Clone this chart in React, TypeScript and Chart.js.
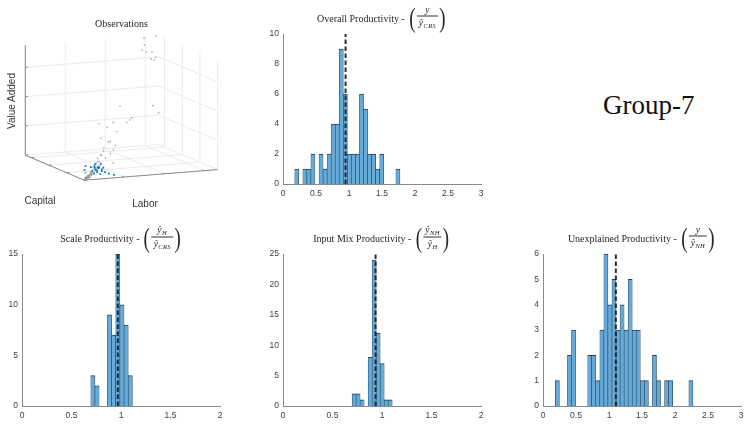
import React, { useEffect, useRef } from 'react';
import { Chart, registerables } from 'chart.js';

Chart.register(...registerables);

// ---------------- Observations (all firms) ----------------
const firmCapital = [
  100, 100, 78, 83, 91, 94, 90, 96, 88, 48,
  92, 64, 57, 39, 31, 20, 44, 22, 35, 42,
  26, 35, 18, 22, 100, 61, 39, 39, 3, 4,
  5, 6, 5, 7, 8, 6, 9, 10, 11, 12,
  8, 13, 14, 15, 16, 18, 17, 20, 22, 24,
  12, 10, 25, 28, 9, 2, 4, 7, 3, 2,
  1, 4, 6, 5, 3, 8, 7, 10, 30, 27,
];
const firmLabor = [
  89, 98, 78, 83, 91, 94, 90, 96, 84, 48,
  92, 64, 57, 39, 31, 20, 44, 22, 35, 42,
  26, 35, 18, 22, 100, 61, 39, 39, 2, 3,
  4, 5, 6, 6, 7, 8, 8, 9, 10, 10,
  11, 12, 12, 14, 13, 16, 19, 18, 20, 22,
  16, 14, 27, 25, 5, 3, 7, 4, 4, 2,
  2, 5, 6, 3, 6, 9, 9, 12, 28, 30,
];
const firmValueAdded = [
  73.5, 74.3, 69.8, 67.5, 65.3, 59.3, 60.8, 60.8, 71.3, 39,
  28.5, 27, 25.5, 30, 28.5, 33.8, 22.5, 23.3, 18, 13.5,
  13.5, 9.8, 10.5, 12, 21.8, 26.3, 11.3, 2.3, 0.8, 0.8,
  0.8, 1.5, 0.8, 1.5, 1.5, 2.3, 1.5, 2.3, 2.3, 3,
  2.3, 3.8, 3, 4.5, 5.3, 4.5, 6, 6.8, 7.5, 6.8,
  6, 5.3, 9, 10.5, 3, 1.5, 2.3, 3.8, 0.5, 0.4,
  0.3, 0.6, 1, 0.5, 1.2, 1.8, 2.5, 3.5, 15, 19.5,
];

// Group-7 firms
const groupCapital = [20, 15, 14, 16, 12, 18, 13, 10, 8, 6, 22, 17, 25, 14, 16, 11, 19, 13, 20, 9, 15, 23, 17];
const groupLabor = [9, 15, 17, 16, 15, 18, 19, 20, 22, 25, 18, 20, 12, 14, 13, 18, 16, 13, 20, 16, 21, 15, 17];
const groupValueAdded = [3, 3.8, 4.5, 3, 2.3, 4.5, 3.8, 2.3, 1.5, 0.8, 6, 6.8, 4.5, 5.3, 2.3, 3, 5.3, 1.5, 3.8, 1.5, 4.5, 3.8, 2.3];

// 3-D axis limits and ticks
const CAPITAL_MAX = 100;
const LABOR_MAX = 100;
const VA_MAX = 75;
const capitalTicks = [0, 30, 60, 90];
const laborTicks = [0, 30, 60, 90];
const valueAddedTicks = [0, 20, 40, 60];

// ---------------- Productivity histograms ----------------
const overallBinStart = 0.178;
const overallBinWidth = 0.0613;
const overallCounts = [1, 0, 1, 1, 2, 0, 2, 1, 2, 4, 4, 9, 6, 2, 2, 2, 6, 5, 2, 2, 1, 2, 0, 0, 0, 1];
const overallMedian = 0.948;

const scaleBinStart = 0.695;
const scaleBinWidth = 0.042;
const scaleCounts = [3, 2, 0, 0, 9, 7, 15, 10, 8, 3];
const scaleMedian = 0.968;

const mixBinStart = 0.698;
const mixBinWidth = 0.0405;
const mixCounts = [2, 2, 1, 0, 8, 24, 12, 7, 1, 1];
const mixMedian = 0.935;

const unexplainedBinStart = 0.187;
const unexplainedBinWidth = 0.0613;
const unexplainedCounts = [
  1, 0, 0, 2, 3, 0, 0, 0, 2, 2, 1, 3, 6, 4, 5, 3, 4,
  3, 5, 3, 3, 1, 1, 0, 2, 1, 0, 1, 1, 0, 0, 0, 0, 1,
];
const unexplainedMedian = 1.104;

// ---------------- styling ----------------
const SERIF = '"Liberation Serif", "DejaVu Serif", serif';
const SANS = '"Liberation Sans", Arial, sans-serif';
const BAR_FILL = '#66aad7';
const BAR_EDGE = '#23405c';
const AXIS_COLOR = '#8a8a8a';
const TICK_COLOR = '#3c3c3c';
const GRID_3D = '#e6e6e6';

const AX_W = 24;
const AX_H = 20;
const PAD_T = 6;
const PAD_R = 10;

// screen projection of the 3-D box (fixed view)
const W3 = 240;
const H3 = 215;
const ORIGIN_PX = { x: 83, y: 183 };
const CAPITAL_DIR = { x: -61, y: -26 };
const LABOR_DIR = { x: 138, y: -11 };
const VA_DIR = { x: 0, y: -114 };

function project(c: number, l: number, v: number) {
  const a = c / CAPITAL_MAX;
  const b = l / LABOR_MAX;
  const h = v / VA_MAX;
  return {
    x: ORIGIN_PX.x + a * CAPITAL_DIR.x + b * LABOR_DIR.x + h * VA_DIR.x,
    y: ORIGIN_PX.y + a * CAPITAL_DIR.y + b * LABOR_DIR.y + h * VA_DIR.y,
  };
}

const box3dPlugin = {
  id: 'box3d',
  beforeDatasetsDraw(chart: any) {
    const { ctx } = chart;
    const xs = chart.scales.x;
    const ys = chart.scales.y;
    const P = (c: number, l: number, v: number) => {
      const p = project(c, l, v);
      return [xs.getPixelForValue(p.x), ys.getPixelForValue(p.y)];
    };
    const seg = (a: number[], b: number[], color: string, w: number) => {
      ctx.beginPath();
      ctx.moveTo(a[0], a[1]);
      ctx.lineTo(b[0], b[1]);
      ctx.strokeStyle = color;
      ctx.lineWidth = w;
      ctx.stroke();
    };
    ctx.save();
    // floor grid
    laborTicks.forEach((t) => seg(P(0, t, 0), P(CAPITAL_MAX, t, 0), GRID_3D, 0.8));
    capitalTicks.forEach((t) => seg(P(t, 0, 0), P(t, LABOR_MAX, 0), GRID_3D, 0.8));
    // back wall at capital max
    laborTicks.forEach((t) => seg(P(CAPITAL_MAX, t, 0), P(CAPITAL_MAX, t, VA_MAX), GRID_3D, 0.8));
    valueAddedTicks.forEach((t) => seg(P(CAPITAL_MAX, 0, t), P(CAPITAL_MAX, LABOR_MAX, t), GRID_3D, 0.8));
    // back wall at labor max
    capitalTicks.forEach((t) => seg(P(t, LABOR_MAX, 0), P(t, LABOR_MAX, VA_MAX), GRID_3D, 0.8));
    valueAddedTicks.forEach((t) => seg(P(0, LABOR_MAX, t), P(CAPITAL_MAX, LABOR_MAX, t), GRID_3D, 0.8));
    // axis lines
    seg(P(CAPITAL_MAX, 0, 0), P(0, 0, 0), AXIS_COLOR, 1);
    seg(P(0, 0, 0), P(0, LABOR_MAX, 0), AXIS_COLOR, 1);
    seg(P(CAPITAL_MAX, 0, 0), P(CAPITAL_MAX, 0, VA_MAX), AXIS_COLOR, 1);
    // tick marks
    valueAddedTicks.forEach((t) => seg(P(CAPITAL_MAX, 0, t), P(CAPITAL_MAX, 2, t), AXIS_COLOR, 1));
    capitalTicks.forEach((t) => seg(P(t, 0, 0), P(t, 2, 0), AXIS_COLOR, 1));
    laborTicks.forEach((t) => seg(P(0, t, 0), P(3, t, 0), AXIS_COLOR, 1));
    ctx.restore();
  },
};

function scatterConfig(): any {
  const firms = firmCapital.map((c, i) => project(c, firmLabor[i], firmValueAdded[i]));
  const group = groupCapital.map((c, i) => project(c, groupLabor[i], groupValueAdded[i]));
  return {
    type: 'scatter',
    data: {
      datasets: [
        {
          data: group,
          pointStyle: 'rect',
          pointRadius: 1.2,
          backgroundColor: '#0072bd',
          borderWidth: 0,
          order: 0,
        },
        {
          data: firms,
          pointRadius: 0.85,
          backgroundColor: 'rgba(110,110,110,0.55)',
          borderWidth: 0,
          order: 1,
        },
      ],
    },
    options: {
      responsive: false,
      animation: false,
      events: [],
      layout: { padding: 0 },
      plugins: { legend: { display: false }, tooltip: { enabled: false } },
      scales: {
        x: { type: 'linear', min: 0, max: W3, display: false },
        y: { type: 'linear', min: 0, max: H3, reverse: true, display: false },
      },
    },
    plugins: [box3dPlugin],
  };
}

const formatTick = (v: number | string) => String(Math.round(Number(v) * 100) / 100);

function histConfig(p: any): any {
  const bars = p.counts.map((c: number, i: number) => ({ x: p.binStart + (i + 0.5) * p.binWidth, y: c }));
  const tickFont = { family: SANS, size: 8.5 };
  return {
    type: 'bar',
    data: {
      datasets: [
        {
          type: 'line',
          data: [
            { x: p.median, y: 0 },
            { x: p.median, y: p.yMax },
          ],
          borderColor: 'rgba(28,28,32,0.92)',
          borderWidth: 2,
          borderDash: [4.5, 2.5],
          pointRadius: 0,
          order: 0,
        },
        {
          type: 'bar',
          data: bars,
          backgroundColor: BAR_FILL,
          borderColor: BAR_EDGE,
          borderWidth: { top: 1, left: 0.6, right: 0.6, bottom: 0 },
          barPercentage: 1,
          categoryPercentage: 1,
          order: 1,
        },
      ],
    },
    options: {
      responsive: false,
      animation: false,
      events: [],
      layout: { padding: { top: PAD_T, right: PAD_R, left: 0, bottom: 0 } },
      plugins: { legend: { display: false }, tooltip: { enabled: false } },
      scales: {
        x: {
          type: 'linear',
          min: 0,
          max: p.xMax,
          offset: false,
          grid: { display: false, drawTicks: false },
          border: { display: true, color: AXIS_COLOR, width: 1 },
          ticks: {
            stepSize: 0.5,
            autoSkip: false,
            maxRotation: 0,
            color: TICK_COLOR,
            font: tickFont,
            padding: 5,
            callback: formatTick,
          },
          afterFit: (s: any) => {
            s.height = AX_H;
          },
        },
        y: {
          type: 'linear',
          min: 0,
          max: p.yMax,
          grid: { display: false, drawTicks: false },
          border: { display: true, color: AXIS_COLOR, width: 1 },
          ticks: { stepSize: p.yStep, color: TICK_COLOR, font: tickFont, padding: 4, callback: formatTick },
          afterFit: (s: any) => {
            s.width = AX_W;
          },
        },
      },
    },
  };
}

const PANELS = [
  {
    id: 'overall',
    area: { left: 283, top: 31, width: 198, height: 153 },
    binStart: overallBinStart,
    binWidth: overallBinWidth,
    counts: overallCounts,
    median: overallMedian,
    xMax: 3,
    yMax: 10,
    yStep: 2,
  },
  {
    id: 'scale',
    area: { left: 22, top: 251, width: 198, height: 155 },
    binStart: scaleBinStart,
    binWidth: scaleBinWidth,
    counts: scaleCounts,
    median: scaleMedian,
    xMax: 2,
    yMax: 15,
    yStep: 5,
  },
  {
    id: 'mix',
    area: { left: 283, top: 251, width: 198, height: 155 },
    binStart: mixBinStart,
    binWidth: mixBinWidth,
    counts: mixCounts,
    median: mixMedian,
    xMax: 2,
    yMax: 25,
    yStep: 5,
  },
  {
    id: 'unexplained',
    area: { left: 543, top: 251, width: 198, height: 155 },
    binStart: unexplainedBinStart,
    binWidth: unexplainedBinWidth,
    counts: unexplainedCounts,
    median: unexplainedMedian,
    xMax: 3,
    yMax: 6,
    yStep: 1,
  },
];

function ChartCanvas({ left, top, width, height, build }: any) {
  const ref = useRef<HTMLCanvasElement | null>(null);
  useEffect(() => {
    const chart = new Chart(ref.current as HTMLCanvasElement, build());
    return () => chart.destroy();
  }, []);
  return (
    <canvas
      ref={ref}
      width={width}
      height={height}
      style={{ position: 'absolute', left, top, width, height }}
    />
  );
}

function Sym({ hat, sub }: { hat?: boolean; sub?: string }) {
  return (
    <span style={{ whiteSpace: 'nowrap' }}>
      <i>{hat ? '\u0177' : 'y'}</i>
      {sub ? (
        <i style={{ fontSize: 6.5, position: 'relative', top: 2, marginLeft: 0.5, letterSpacing: 0.3 }}>{sub}</i>
      ) : null}
    </span>
  );
}

function PanelTitle({ cx, cy, text, num, den }: any) {
  const paren = {
    fontSize: 27,
    lineHeight: '27px',
    fontWeight: 300,
    display: 'inline-block',
    transform: 'scaleX(0.7)',
  } as React.CSSProperties;
  return (
    <div
      style={{
        position: 'absolute',
        left: cx,
        top: cy,
        transform: 'translate(-50%, -50%)',
        display: 'flex',
        alignItems: 'center',
        whiteSpace: 'nowrap',
        fontFamily: SERIF,
        fontSize: 10,
        color: '#262626',
      }}
    >
      <span>{text}</span>
      <span style={{ ...paren, marginLeft: 3 }}>(</span>
      <span
        style={{
          display: 'inline-flex',
          flexDirection: 'column',
          alignItems: 'center',
          fontSize: 9.5,
          lineHeight: '10px',
        }}
      >
        <span style={{ padding: '0 2px 1px' }}>{num}</span>
        <span style={{ alignSelf: 'stretch', borderTop: '0.8px solid #333' }} />
        <span style={{ padding: '1px 2px 2px' }}>{den}</span>
      </span>
      <span style={paren}>)</span>
    </div>
  );
}

export default function App() {
  return (
    <div
      style={{
        position: 'fixed',
        left: 0,
        top: 0,
        width: 750,
        height: 426,
        background: '#ffffff',
        overflow: 'hidden',
      }}
    >
      <ChartCanvas left={0} top={0} width={W3} height={H3} build={scatterConfig} />
      {PANELS.map((p) => (
        <ChartCanvas
          key={p.id}
          left={p.area.left - AX_W}
          top={p.area.top - PAD_T}
          width={p.area.width + AX_W + PAD_R}
          height={p.area.height + PAD_T + AX_H}
          build={() => histConfig(p)}
        />
      ))}

      {/* 3-D panel labels */}
      <div
        style={{
          position: 'absolute',
          left: 121.5,
          top: 23,
          transform: 'translate(-50%, -50%)',
          fontFamily: SERIF,
          fontSize: 10,
          color: '#262626',
          whiteSpace: 'nowrap',
        }}
      >
        Observations
      </div>
      <div
        style={{
          position: 'absolute',
          left: 11,
          top: 101,
          transform: 'translate(-50%, -50%) rotate(-90deg)',
          fontFamily: SANS,
          fontSize: 10,
          color: '#333',
          whiteSpace: 'nowrap',
        }}
      >
        Value Added
      </div>
      <div
        style={{
          position: 'absolute',
          left: 40,
          top: 200,
          transform: 'translate(-50%, -50%)',
          fontFamily: SANS,
          fontSize: 10,
          color: '#333',
        }}
      >
        Capital
      </div>
      <div
        style={{
          position: 'absolute',
          left: 145,
          top: 203,
          transform: 'translate(-50%, -50%)',
          fontFamily: SANS,
          fontSize: 10,
          color: '#333',
        }}
      >
        Labor
      </div>

      <PanelTitle cx={382} cy={17.5} text="Overall Productivity -" num={<Sym />} den={<Sym hat sub="CRS" />} />
      <PanelTitle cx={121} cy={237.5} text="Scale Productivity -" num={<Sym hat sub="H" />} den={<Sym hat sub="CRS" />} />
      <PanelTitle cx={382} cy={237.5} text="Input Mix Productivity -" num={<Sym hat sub="NH" />} den={<Sym hat sub="H" />} />
      <PanelTitle cx={642} cy={237.5} text="Unexplained Productivity -" num={<Sym />} den={<Sym hat sub="NH" />} />

      <div
        style={{
          position: 'absolute',
          left: 603,
          top: 92,
          fontFamily: SERIF,
          fontSize: 27,
          lineHeight: '27px',
          color: '#111',
          whiteSpace: 'nowrap',
        }}
      >
        Group-7
      </div>
    </div>
  );
}
